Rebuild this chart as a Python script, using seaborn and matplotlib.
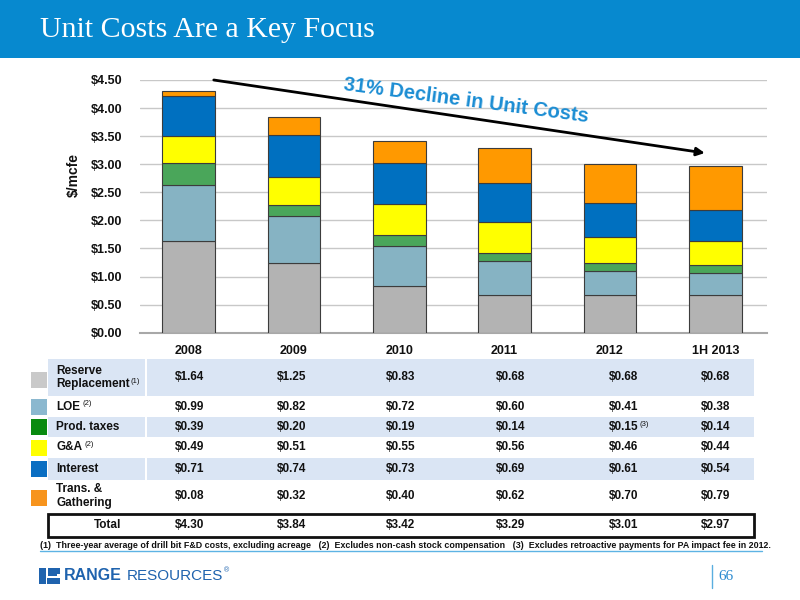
import matplotlib
matplotlib.use("Agg")
import matplotlib.pyplot as plt
import seaborn as sns
import numpy as np
import pandas as pd
from matplotlib.patches import Rectangle
from matplotlib.lines import Line2D
from matplotlib import font_manager as fm

# ---------------- data ----------------
years = ["2008", "2009", "2010", "2011", "2012", "1H 2013"]
components = ["Reserve Replacement", "LOE", "Prod. taxes", "G&A", "Interest", "Trans. & Gathering"]
reserve_replacement = [1.64, 1.25, 0.83, 0.68, 0.68, 0.68]
loe = [0.99, 0.82, 0.72, 0.60, 0.41, 0.38]
prod_taxes = [0.39, 0.20, 0.19, 0.14, 0.15, 0.14]
g_and_a = [0.49, 0.51, 0.55, 0.56, 0.46, 0.44]
interest = [0.71, 0.74, 0.73, 0.69, 0.61, 0.54]
trans_gathering = [0.08, 0.32, 0.40, 0.62, 0.70, 0.79]
totals = [4.30, 3.84, 3.42, 3.29, 3.01, 2.97]
ytick_values = [0.0, 0.5, 1.0, 1.5, 2.0, 2.5, 3.0, 3.5, 4.0, 4.5]
series = [reserve_replacement, loe, prod_taxes, g_and_a, interest, trans_gathering]

# ---------------- style ----------------
bar_colors = ["#B3B3B3", "#86B3C3", "#4AA65A", "#FFFF00", "#0070C0", "#FF9900"]
legend_colors = ["#C9C9C9", "#8BB8CF", "#098A0F", "#FFFF00", "#0A6EC2", "#F7941D"]

sns.set_theme(style="white")
plt.rcParams["font.family"] = ["Liberation Sans", "DejaVu Sans"]


def has_font(name):
    try:
        fm.findfont(fm.FontProperties(family=name), fallback_to_default=False)
        return True
    except Exception:
        return False


narrow = "Liberation Sans Narrow" if has_font("Liberation Sans Narrow") else "Liberation Sans"

W, H = 800, 600
fig = plt.figure(figsize=(8, 6), dpi=100)
fig.patch.set_facecolor("white")


def fx(x):
    return x / W


def fy(y):
    return 1 - y / H


# header band
fig.add_artist(Rectangle((0, fy(58)), 1, 58 / H, transform=fig.transFigure,
                         facecolor="#0789CF", edgecolor="none", zorder=0))
fig.text(fx(40), fy(30), "Unit Costs Are a Key Focus", family=["Liberation Serif", "DejaVu Serif"],
         fontsize=21.5, color="white", va="center", ha="left")

# ---------------- chart ----------------
ax_l, ax_r, ax_t, ax_b = 140, 767, 80, 332.7
ax = fig.add_axes([fx(ax_l), fy(ax_b), (ax_r - ax_l) / W, (ax_b - ax_t) / H])

bottom = np.zeros(len(years))
for vals, col in zip(series, bar_colors):
    sns.barplot(x=years, y=vals, order=years, bottom=bottom.copy(), color=col, saturation=1,
                width=0.5, edgecolor="#3C3C3C", linewidth=0.8, errorbar=None, ax=ax, zorder=3)
    bottom += np.array(vals)

ax.set_xlim(-0.46, 5.49)
ax.set_ylim(0, 4.5)
ax.set_yticks(ytick_values)
ax.set_yticklabels([f"${v:.2f}" for v in ytick_values], fontsize=9, fontweight="bold", color="#111111")
ax.set_xticks(range(len(years)))
ax.set_xticklabels(years, fontsize=9, fontweight="bold", color="#111111")
ax.tick_params(axis="y", length=0, pad=13)
ax.tick_params(axis="x", length=0, pad=9)
ax.yaxis.grid(True, color="#C8C8C8", linewidth=1)
ax.set_axisbelow(True)
for s in ["top", "right", "left"]:
    ax.spines[s].set_visible(False)
ax.spines["bottom"].set_color("#A8A8A8")
ax.spines["bottom"].set_linewidth(1.5)
ax.set_xlabel("")
ax.set_ylabel("$/mcfe", fontsize=10, fontweight="bold", color="#111111")
ax.yaxis.set_label_coords((81 - ax_l) / (ax_r - ax_l), (ax_b - 175) / (ax_b - ax_t))

# trend arrow and callout
ax.annotate("", xy=(4.9, 3.2), xytext=(0.24, 4.5),
            arrowprops=dict(arrowstyle="-|>", lw=2, color="black", mutation_scale=12,
                            shrinkA=0, shrinkB=0),
            annotation_clip=False, zorder=5)
ax.text(2.63, 4.13, "31% Decline in Unit Costs", rotation=-7.5, rotation_mode="anchor",
        ha="center", va="center", fontsize=14.5, fontweight="bold", color="#1B8DD3",
        clip_on=False, zorder=6)

# ---------------- table ----------------
col_x = [190, 292, 401, 511, 624, 716]
row_bounds = [(359, 396), (396, 417), (417, 437), (437, 458), (458, 480), (480, 512)]
row_labels = ["Reserve\nReplacement", "LOE", "Prod. taxes", "G&A", "Interest", "Trans. &\nGathering"]
row_sups = ["(1)", "(2)", None, "(2)", None, None]
shade = "#DAE5F4"
tfs = 8.5

for i, (vals, lab, sup, (yt, yb)) in enumerate(zip(series, row_labels, row_sups, row_bounds)):
    yc = (yt + yb) / 2
    if i % 2 == 0:
        fig.add_artist(Rectangle((fx(48), fy(yb)), (145 - 48) / W, (yb - yt) / H,
                                 transform=fig.transFigure, facecolor=shade, edgecolor="none", zorder=0))
        fig.add_artist(Rectangle((fx(147), fy(yb)), (754 - 147) / W, (yb - yt) / H,
                                 transform=fig.transFigure, facecolor=shade, edgecolor="none", zorder=0))
    # legend swatch
    sc = yc + (2 if i in (0, 5) else 0)
    fig.add_artist(Rectangle((fx(31), fy(sc + 8)), 16 / W, 16 / H, transform=fig.transFigure,
                             facecolor=legend_colors[i], edgecolor="none", zorder=1))
    t = fig.text(fx(56), fy(yc), lab, fontsize=tfs, fontweight="bold", color="#111111",
                 ha="left", va="center", linespacing=1.15)
    if sup:
        multi = "\n" in lab
        ax.annotate(sup, xy=(1.0, 0.22 if multi else 0.45), xycoords=t,
                    xytext=(0.3 if multi else 2, 0), textcoords="offset points", fontsize=5.5,
                    color="#111111", ha="left", va="bottom", annotation_clip=False)
    for j, v in enumerate(vals):
        vt = fig.text(fx(col_x[j]), fy(yc), f"${v:.2f}", fontsize=tfs, fontweight="bold",
                      color="#111111", ha="center", va="center")
        if i == 2 and years[j] == "2012":
            ax.annotate("(3)", xy=(1.0, 0.45), xycoords=vt, xytext=(0.3, 0),
                        textcoords="offset points", fontsize=5.5, color="#111111",
                        ha="left", va="bottom", annotation_clip=False)

# total row
fig.add_artist(Rectangle((fx(48), fy(537)), (754 - 48) / W, (537 - 514) / H,
                         transform=fig.transFigure, facecolor="white", edgecolor="#111111",
                         linewidth=2, zorder=1))
fig.text(fx(108), fy(525.5), "Total", fontsize=tfs, fontweight="bold", color="#111111",
         ha="center", va="center", zorder=2)
for j, v in enumerate(totals):
    fig.text(fx(col_x[j]), fy(525.5), f"${v:.2f}", fontsize=tfs, fontweight="bold",
             color="#111111", ha="center", va="center", zorder=2)

# footnote
foot = fig.text(fx(40), fy(545),
                "(1)  Three-year average of drill bit F&D costs, excluding acreage   "
                "(2)  Excludes non-cash stock compensation   "
                "(3)  Excludes retroactive payments for PA impact fee in 2012.",
                family=[narrow, "Liberation Sans"], fontsize=7, fontweight="bold",
                color="#111111", ha="left", va="center")
renderer = fig.canvas.get_renderer()
bb = foot.get_window_extent(renderer=renderer)
foot.set_fontsize(foot.get_fontsize() * (769 - 40) / bb.width)
fig.add_artist(Line2D([fx(40), fx(762)], [fy(550.5), fy(550.5)], transform=fig.transFigure,
                      color="#5DB3E4", linewidth=1))

# logo
logo_blue = "#1F63AE"
fig.add_artist(Rectangle((fx(39), fy(584)), 7 / W, 16 / H, transform=fig.transFigure,
                         facecolor=logo_blue, edgecolor="none"))
fig.add_artist(Rectangle((fx(48), fy(576)), 9 / W, 8 / H, transform=fig.transFigure,
                         facecolor=logo_blue, edgecolor="none"))
fig.add_artist(Rectangle((fx(47), fy(584)), 13 / W, 6 / H, transform=fig.transFigure,
                         facecolor=logo_blue, edgecolor="none"))
fig.add_artist(Rectangle((fx(52), fy(574)), 8 / W, 6 / H, transform=fig.transFigure,
                         facecolor=logo_blue, edgecolor="none"))
rg = fig.text(fx(64), fy(576), "RANGE", fontsize=11.5, fontweight="bold", color=logo_blue,
              ha="left", va="center")
rs = fig.text(fx(127), fy(576), "RESOURCES", family=[narrow, "Liberation Sans"], fontsize=11,
              color=logo_blue, ha="left", va="center")
bb = rs.get_window_extent(renderer=renderer)
fig.text(fx(127) + (bb.width + 1) / W, fy(571), "®", fontsize=5, color=logo_blue,
         ha="left", va="center")

# page number
fig.add_artist(Line2D([fx(712), fx(712)], [fy(565), fy(588)], transform=fig.transFigure,
                      color="#5AAEE0", linewidth=1))
fig.text(fx(718), fy(577), "66", family=["Liberation Serif", "DejaVu Serif"], fontsize=11,
         color="#2A8AD0", ha="left", va="center")

fig.savefig("out.png", dpi=100)
